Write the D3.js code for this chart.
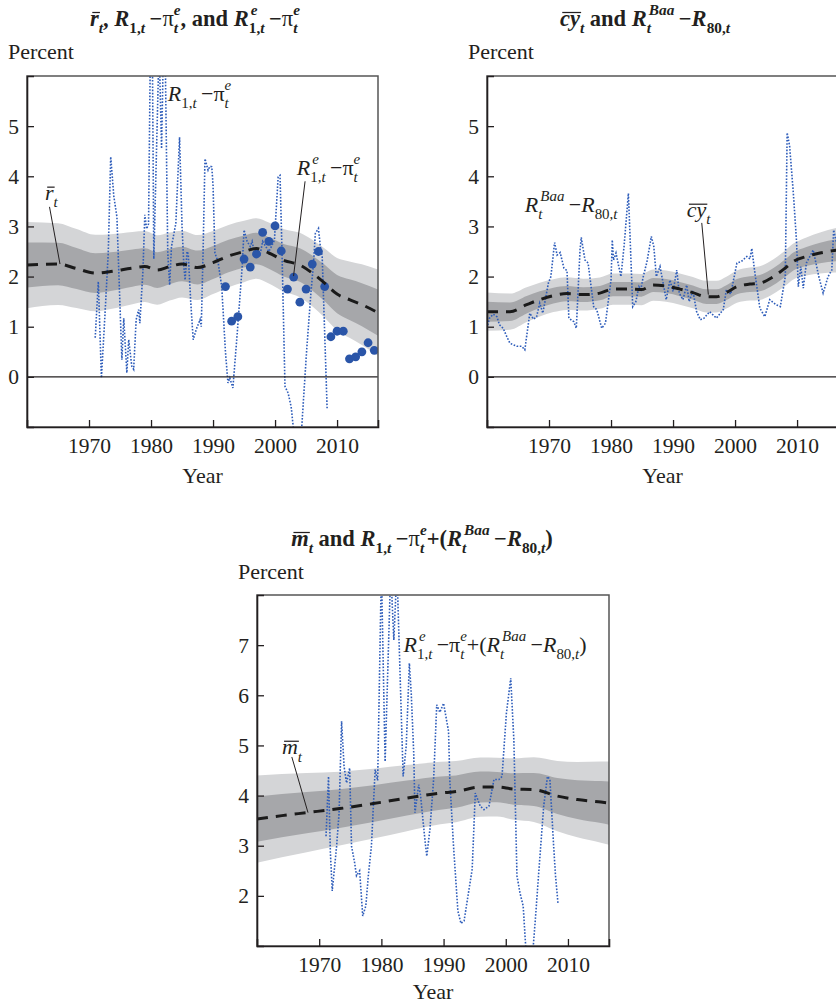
<!DOCTYPE html>
<html><head><meta charset="utf-8">
<script src="https://cdn.jsdelivr.net/npm/d3@7"></script>
<style>
body{margin:0;background:#fff}
svg{display:block}
text{font-family:"Liberation Serif","Times New Roman",serif;fill:#231f20;white-space:pre}
</style>
</head><body>
<svg id="c" width="836" height="1006"></svg>
<script>
// ---------------- DATA ----------------
const xTickYears = [1970, 1980, 1990, 2000, 2010];
const yTicksTop = [0, 1, 2, 3, 4, 5];
const yTicksBottom = [2, 3, 4, 5, 6, 7];

// Panel 1: r-bar median and band half-widths
const rbarYears = [1960, 1965, 1968, 1971, 1973.5, 1977, 1979, 1981, 1983, 1985, 1987.5, 1990, 1992.5, 1995, 1997, 1999, 2001.5, 2004, 2006, 2008, 2010, 2012, 2014, 2016.6];
const rbarMed   = [2.23, 2.25, 2.16, 2.07, 2.10, 2.17, 2.20, 2.13, 2.20, 2.25, 2.18, 2.28, 2.41, 2.50, 2.56, 2.47, 2.32, 2.23, 2.07, 1.87, 1.65, 1.54, 1.44, 1.28];
const rbarBandYears = [1960, 1970, 1980, 1990, 1998, 2005, 2010, 2016.6];
const rbarOuter = [0.86, 0.77, 0.70, 0.63, 0.60, 0.65, 0.72, 0.86];
const rbarInner = [0.45, 0.40, 0.36, 0.33, 0.31, 0.34, 0.38, 0.46];

// Panel 1: R1 - pi^e (dotted)
const r1Years = [1971.0,1971.5,1972.0,1972.6,1973.1,1973.5,1974.0,1974.5,1974.7,1975.3,1975.6,1976.1,1976.4,1976.9,1977.2,1977.6,1978.0,1978.2,1978.7,1979.0,1979.3,1979.6,1979.9,1980.2,1980.45,1981.3,1981.7,1982.0,1982.3,1982.7,1983.0,1983.3,1984.0,1984.6,1985.0,1985.3,1985.5,1985.8,1986.0,1986.4,1986.8,1987.3,1987.9,1988.1,1988.4,1988.7,1989.2,1989.5,1989.8,1990.0,1990.3,1990.8,1991.4,1992.0,1992.4,1992.7,1993.2,1993.9,1994.7,1995.0,1995.5,1996.0,1996.3,1996.8,1997.2,1997.6,1998.0,1998.5,1999.0,1999.5,1999.9,2000.5,2000.8,2001.1,2001.6,2002.1,2002.6,2003.1,2004.2,2005.1,2005.8,2006.2,2006.5,2007.0,2007.3,2007.6,2008.4];
const r1Vals  = [0.78,1.90,-0.02,1.30,2.47,4.39,3.60,3.19,2.47,0.34,1.17,0.08,0.74,0.21,0.15,1.14,1.34,1.07,2.13,3.23,2.95,3.05,6.6,6.8,2.35,6.6,4.55,6.6,6.3,2.47,1.83,2.60,3.06,4.78,3.00,2.20,1.93,2.50,2.45,1.50,0.74,0.95,1.14,1.00,2.53,4.35,4.12,4.20,4.19,3.82,2.47,2.30,1.80,0.50,-0.12,-0.02,-0.22,0.87,2.20,2.93,2.70,2.60,2.70,2.40,2.55,2.45,2.70,2.60,2.50,2.62,2.73,3.99,4.02,2.60,-0.19,-0.32,-0.60,-1.2,-1.2,0.54,1.70,2.27,2.86,2.96,2.60,2.40,-0.65];

// Panel 1: R^e_1 - pi^e (dots)
const reYears = [1992,1993,1994,1995,1996,1997,1998,1999,2000,2001,2002,2003,2004,2005,2006,2007,2008,2009,2010,2011,2012,2013,2014,2015,2016];
const reVals  = [1.80,1.11,1.20,2.35,2.19,2.45,2.88,2.70,3.01,2.51,1.75,1.99,1.49,1.75,2.25,2.50,1.80,0.80,0.91,0.91,0.36,0.40,0.50,0.68,0.53];

// Panel 2: cy-bar
const cyYears = [1960,1963.7,1966.4,1968.5,1970.7,1972.9,1975.5,1978.2,1980.3,1983,1984.9,1986.8,1988.9,1991.1,1993.2,1995.4,1997,1998.6,2000.3,2002.4,2004,2006.2,2008.1,2009.4,2011.5,2013.7,2016.6];
const cyMed   = [1.30,1.30,1.44,1.54,1.62,1.66,1.64,1.67,1.75,1.75,1.74,1.83,1.81,1.75,1.68,1.60,1.60,1.68,1.80,1.85,1.87,2.00,2.17,2.30,2.40,2.47,2.53];
const cyBandYears = [1960, 1970, 1980, 1990, 2000, 2010, 2016.6];
const cyOuter = [0.38, 0.33, 0.31, 0.31, 0.32, 0.36, 0.45];
const cyInner = [0.20, 0.16, 0.14, 0.14, 0.15, 0.18, 0.22];

// Panel 2: Baa - R80 (dotted)
const baaYears = [1960.0,1960.4,1961.0,1961.6,1962.0,1962.6,1963.2,1963.7,1964.8,1965.6,1966.1,1966.9,1967.5,1968.0,1968.5,1969.0,1969.9,1970.3,1970.9,1971.3,1971.8,1972.4,1972.9,1973.2,1974.0,1974.4,1975.0,1975.2,1975.8,1976.3,1977.2,1977.7,1978.5,1979.1,1980.0,1980.2,1980.4,1980.8,1981.2,1981.6,1982.1,1982.8,1983.5,1984.0,1984.5,1984.8,1985.2,1985.8,1986.5,1986.9,1987.3,1987.9,1988.9,1989.5,1990.0,1990.6,1991.0,1991.6,1992.2,1992.6,1993.2,1993.8,1994.4,1995.0,1995.9,1997.0,1998.1,1998.6,1999.3,2000.3,2001.0,2001.9,2002.4,2002.7,2003.2,2004.0,2004.8,2005.6,2006.6,2007.3,2008.1,2008.4,2008.8,2009.4,2009.9,2010.2,2010.6,2011.0,2011.5,2012.6,2013.5,2014.2,2015.0,2015.6,2015.9,2016.3];
const baaVals  = [0.97,1.17,1.25,1.20,1.04,0.97,0.80,0.67,0.61,0.61,0.54,1.27,1.15,1.20,1.47,1.27,1.87,2.00,2.68,2.43,2.48,2.17,2.12,1.17,1.10,0.97,2.53,2.78,2.33,2.27,1.40,1.34,0.97,1.07,1.93,2.73,2.33,2.47,2.23,2.00,2.60,3.66,1.40,1.50,1.80,1.74,2.00,2.30,2.80,2.60,2.00,2.20,1.54,1.93,1.70,2.13,1.67,1.54,1.83,1.50,1.72,1.30,1.14,1.17,1.30,1.17,1.34,1.74,1.65,2.27,2.30,2.40,2.35,2.56,2.07,1.37,1.20,1.54,1.44,1.40,2.00,4.87,4.60,3.66,2.73,1.80,2.20,1.77,2.27,2.53,2.00,1.67,2.00,2.13,2.93,2.70];

// Panel 3: m-bar
const mYears = [1960,1964,1968,1973.3,1978.7,1984.1,1989.5,1992,1995.9,1998.6,2001.3,2004.5,2008.3,2011.5,2015.3,2016.6];
const mMed   = [3.53,3.60,3.66,3.74,3.84,3.95,4.05,4.08,4.17,4.17,4.13,4.12,3.99,3.92,3.87,3.85];
const mBandYears = [1960, 1975, 1990, 1998, 2005, 2016.6];
const mOuter = [0.87, 0.72, 0.62, 0.58, 0.65, 0.83];
const mInner = [0.45, 0.38, 0.33, 0.30, 0.33, 0.43];

// Panel 3: R^e_1 - pi^e + (Baa - R80) (dotted)
const sumYears = [1971.1,1971.5,1971.8,1972.1,1972.8,1973.2,1973.6,1974.0,1974.4,1974.9,1975.2,1975.7,1976.0,1976.5,1977.0,1977.5,1977.9,1978.4,1979.0,1979.4,1980.0,1980.6,1981.5,1982.0,1982.5,1983.5,1984.0,1984.5,1984.8,1985.2,1985.4,1986.0,1986.3,1987.0,1987.3,1987.8,1988.4,1988.9,1989.4,1990.0,1990.8,1991.0,1991.6,1992.3,1992.8,1993.3,1993.8,1994.6,1995.1,1995.9,1996.5,1997.3,1998.1,1998.9,1999.4,2000.1,2000.8,2001.3,2001.8,2002.3,2002.8,2003.3,2004.3,2004.8,2005.3,2006.1,2006.7,2007.1,2007.7,2008.0,2008.4];
const sumVals  = [3.19,4.38,2.86,2.10,2.99,3.66,5.48,4.58,4.25,4.55,2.99,2.66,2.40,2.50,1.60,1.80,2.40,3.00,4.52,4.30,8.5,4.68,8.5,7.10,8.5,4.38,5.00,6.64,6.04,4.85,3.66,4.22,4.00,3.12,2.79,3.32,4.32,5.81,5.66,5.84,5.28,4.32,2.99,1.70,1.45,1.50,1.90,2.53,4.05,3.79,3.72,3.79,4.32,4.32,4.38,5.64,6.34,5.11,2.40,2.05,1.80,0.80,0.80,1.60,2.46,3.79,4.38,4.32,2.99,2.40,1.85];

// ---------------- DRAWING ----------------
const svg = d3.select('#c');
const INK = '#231f20', BLUE = '#2d5cba', DOT = '#2a55a8', LIGHT = '#d4d5d7', DARK = '#a6a7aa';
const FS = 21.5, TITLE_FS = 22.5, LABEL_FS = 22, SCRIPT = 0.68;

function rich(parent, x, y, items, size, anchor) {
  const g = parent.append('g');
  let cx = 0;
  function put(it, dy, fs) {
    const t = g.append('text').attr('x', cx).attr('y', dy).attr('font-size', fs)
      .attr('xml:space', 'preserve')
      .attr('font-style', it.i ? 'italic' : 'normal')
      .attr('font-weight', it.b ? 'bold' : 'normal').text(it.t);
    const w = t.node().getComputedTextLength();
    if (it.over) {
      g.append('line').attr('x1', cx + fs * 0.1).attr('x2', cx + w + fs * 0.05)
        .attr('y1', dy - fs * 0.6).attr('y2', dy - fs * 0.6)
        .attr('stroke', INK).attr('stroke-width', fs * 0.055);
    }
    cx += w;
  }
  items.forEach(it => {
    if (it.sup || it.sub) {
      const x0 = cx; let w1 = 0, w2 = 0;
      if (it.sup) { cx = x0 + (it.supShift || 0); it.sup.forEach(s => put(s, -size * 0.5, size * SCRIPT)); w1 = cx - x0; }
      if (it.sub) { cx = x0; it.sub.forEach(s => put(s, size * 0.32, size * SCRIPT)); w2 = cx - x0; }
      cx = x0 + Math.max(w1, w2);
    } else put(it, 0, size);
  });
  const tx = anchor === 'middle' ? x - cx / 2 : x;
  g.attr('transform', `translate(${tx},${y})`);
  return g;
}

function interpBand(bandYears, hw) { return d3.scaleLinear().domain(bandYears).range(hw).clamp(true); }

function panel(cfg) {
  const x = d3.scaleLinear().domain([1960, 2016.6]).range([cfg.left, cfg.right]);
  const y = d3.scaleLinear().domain(cfg.yDom).range([cfg.bottom, cfg.top]);
  const g = svg.append('g');
  const id = 'clip' + cfg.id;
  g.append('clipPath').attr('id', id).append('rect')
    .attr('x', cfg.left).attr('y', cfg.top).attr('width', cfg.right - cfg.left).attr('height', cfg.bottom - cfg.top);
  const pg = g.append('g').attr('clip-path', `url(#${id})`);

  // bands
  const outerW = interpBand(cfg.bandYears, cfg.outer), innerW = interpBand(cfg.bandYears, cfg.inner);
  const pts = cfg.medYears.map((yr, i) => ({yr, m: cfg.med[i]}));
  const area = (wf) => d3.area().curve(d3.curveMonotoneX).x(d => x(d.yr))
    .y0(d => y(d.m - wf(d.yr))).y1(d => y(d.m + wf(d.yr)));
  pg.append('path').attr('d', area(outerW)(pts)).attr('fill', LIGHT);
  pg.append('path').attr('d', area(innerW)(pts)).attr('fill', DARK);

  // zero line
  if (cfg.yDom[0] < 0) {
    g.append('line').attr('x1', cfg.left).attr('x2', cfg.right).attr('y1', y(0)).attr('y2', y(0))
      .attr('stroke', INK).attr('stroke-width', 1.2);
  }

  // dotted observed series
  const line = d3.line().x(d => x(d[0])).y(d => y(d[1]));
  pg.append('path').attr('d', line(cfg.obsYears.map((yr, i) => [yr, cfg.obsVals[i]])))
    .attr('fill', 'none').attr('stroke', BLUE).attr('stroke-width', 1.6).attr('stroke-dasharray', '1.6,1.6');

  // dots
  if (cfg.dotYears) {
    pg.selectAll('circle.d').data(cfg.dotYears.map((yr, i) => [yr, cfg.dotVals[i]])).enter()
      .append('circle').attr('cx', d => x(d[0])).attr('cy', d => y(d[1])).attr('r', 4.4).attr('fill', DOT);
  }

  // median dashed
  pg.append('path').attr('d', d3.line().curve(d3.curveMonotoneX).x(d => x(d.yr)).y(d => y(d.m))(pts))
    .attr('fill', 'none').attr('stroke', '#1a1a1a').attr('stroke-width', 3).attr('stroke-dasharray', '11,8');

  // frame
  g.append('rect').attr('x', cfg.left).attr('y', cfg.top).attr('width', cfg.right - cfg.left).attr('height', cfg.bottom - cfg.top)
    .attr('fill', 'none').attr('stroke', '#555').attr('stroke-width', 1.5);

  // axes
  const ya = g.append('g').attr('transform', `translate(${cfg.left},0)`)
    .call(d3.axisLeft(y).tickValues(cfg.yTicks).tickFormat(d3.format('d')).tickSize(-7).tickPadding(8));
  const xa = g.append('g').attr('transform', `translate(0,${cfg.bottom})`)
    .call(d3.axisBottom(x).tickValues(xTickYears).tickFormat(d3.format('d')).tickSize(-7).tickPadding(11));
  [ya, xa].forEach(a => {
    a.select('.domain').attr('stroke', INK).attr('stroke-width', 1.6);
    a.selectAll('.tick line').attr('stroke', INK).attr('stroke-width', 1.3);
    a.selectAll('.tick text').attr('font-size', FS).attr('fill', INK)
      .attr('font-family', '"Liberation Serif","Times New Roman",serif');
  });

  // titles
  rich(g, cfg.titleX, cfg.titleY, cfg.title, TITLE_FS, 'middle');
  g.append('text').attr('x', cfg.percentX).attr('y', cfg.percentY).attr('font-size', 22).text('Percent');
  g.append('text').attr('x', (cfg.left + cfg.right) / 2).attr('y', cfg.yearY).attr('font-size', 22)
    .attr('text-anchor', 'middle').text('Year');

  // annotations
  (cfg.labels || []).forEach(l => rich(g, x(l.at[0]), y(l.at[1]), l.items, LABEL_FS, 'start'));
  (cfg.leaders || []).forEach(l => g.append('line')
    .attr('x1', x(l[0])).attr('y1', y(l[1])).attr('x2', x(l[2])).attr('y2', y(l[3]))
    .attr('stroke', INK).attr('stroke-width', 1));
}

const it = (t) => ({t, i: true});
const itb = (t) => ({t, i: true, b: true});
const bd = (t) => ({t, b: true});
const nm = (t) => ({t});
const MINUS = '\u2009\u2212';
const SP = '\u00a0';

panel({
  id: 1, left: 27, right: 378, top: 76, bottom: 427, yDom: [-1, 6], yTicks: yTicksTop,
  medYears: rbarYears, med: rbarMed, bandYears: rbarBandYears, outer: rbarOuter, inner: rbarInner,
  obsYears: r1Years, obsVals: r1Vals, dotYears: reYears, dotVals: reVals,
  titleX: 195, titleY: 26, percentX: 8, percentY: 59, yearY: 483,
  title: [{t: 'r', i: true, b: true, over: true}, {sub: [itb('t')]}, bd(',' + SP), itb('R'), {sub: [bd('1,'), itb('t')]},
          bd(MINUS), nm('\u03c0'), {sup: [itb('e')], sub: [itb('t')]}, bd(',' + SP + 'and' + SP), itb('R'),
          {sup: [itb('e')], sub: [bd('1,'), itb('t')], supShift: 2}, bd(MINUS), nm('\u03c0'), {sup: [itb('e')], sub: [itb('t')]}],
  labels: [
    {at: [1982.7, 5.51], items: [it('R'), {sub: [nm('1,'), it('t')]}, nm(MINUS), nm('\u03c0'), {sup: [it('e')], sub: [it('t')]}]},
    {at: [2003.5, 4.02], items: [it('R'), {sup: [it('e')], sub: [nm('1,'), it('t')], supShift: 2}, nm(MINUS), nm('\u03c0'), {sup: [it('e')], sub: [it('t')]}]},
    {at: [1962.9, 3.52], items: [{t: 'r', i: true, over: true}, {sub: [it('t')]}]}
  ],
  leaders: [[1963.63, 3.39, 1965.32, 2.25], [2004.84, 3.90, 2002.98, 2.01]]
});

panel({
  id: 2, left: 487, right: 838, top: 76, bottom: 427, yDom: [-1, 6], yTicks: yTicksTop,
  medYears: cyYears, med: cyMed, bandYears: cyBandYears, outer: cyOuter, inner: cyInner,
  obsYears: baaYears, obsVals: baaVals,
  titleX: 645, titleY: 26, percentX: 468, percentY: 59, yearY: 483,
  title: [{t: 'cy', i: true, b: true, over: true}, {sub: [itb('t')]}, bd(SP + 'and' + SP), itb('R'),
          {sup: [itb('Baa')], sub: [itb('t')], supShift: 2}, bd(MINUS), itb('R'), {sub: [bd('80,'), itb('t')]}],
  labels: [
    {at: [1966.1, 3.29], items: [it('R'), {sup: [it('Baa')], sub: [it('t')], supShift: 2}, nm(MINUS), it('R'), {sub: [nm('80,'), it('t')]}]},
    {at: [1992.2, 3.18], items: [{t: 'cy', i: true, over: true}, {sub: [it('t')]}]}
  ],
  leaders: [[1994.63, 3.07, 1995.69, 1.64]]
});

panel({
  id: 3, left: 257, right: 609, top: 595, bottom: 946, yDom: [1, 8], yTicks: yTicksBottom,
  medYears: mYears, med: mMed, bandYears: mBandYears, outer: mOuter, inner: mInner,
  obsYears: sumYears, obsVals: sumVals,
  titleX: 422, titleY: 546, percentX: 238, percentY: 579, yearY: 999,
  title: [{t: 'm', i: true, b: true, over: true}, {sub: [itb('t')]}, bd(SP + 'and' + SP), itb('R'), {sub: [bd('1,'), itb('t')]},
          bd(MINUS), nm('\u03c0'), {sup: [itb('e')], sub: [itb('t')]}, bd('+('), itb('R'),
          {sup: [itb('Baa')], sub: [itb('t')], supShift: 2}, bd(MINUS), itb('R'), {sub: [bd('80,'), itb('t')]}, bd(')')],
  labels: [
    {at: [1983.55, 6.86], items: [it('R'), {sup: [it('e')], sub: [nm('1,'), it('t')], supShift: 2}, nm(MINUS), nm('\u03c0'),
      {sup: [it('e')], sub: [it('t')]}, nm('+('), it('R'), {sup: [it('Baa')], sub: [it('t')], supShift: 2}, nm(MINUS), it('R'), {sub: [nm('80,'), it('t')]}, nm(')')]},
    {at: [1964.0, 4.82], items: [{t: 'm', i: true, over: true}, {sub: [it('t')]}]}
  ],
  leaders: [[1965.6, 4.77, 1968.2, 3.66]]
});
</script>
</body></html>
